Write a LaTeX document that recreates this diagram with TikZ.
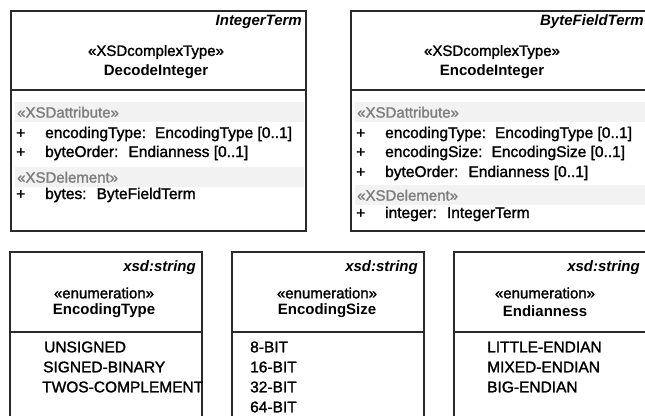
\documentclass[tikz,border=0pt]{standalone}
\usepackage{fontspec}
\setmainfont{Liberation Sans}
\newfontfamily\rowface{Liberation Sans}[FakeBold=1.5]
\usetikzlibrary{positioning}
\definecolor{framecolor}{HTML}{2A2A2A}
\definecolor{bandfill}{HTML}{F2F2F2}
\definecolor{stereotext}{HTML}{7E7E7E}
\newcommand{\umlfont}{\rowface\fontsize{15.5}{18}\selectfont}
\newcommand{\namefont}{\fontsize{15}{18}\selectfont\bfseries}
\newcommand{\attrrow}[1]{\makebox[29pt][l]{+}#1}

\begin{document}
\begin{tikzpicture}[x=1pt, y=1pt, every node/.style={font=\umlfont, inner sep=0pt}]

\tikzset{
  headbox/.style={rectangle, draw=framecolor, line width=1.6pt, outer sep=0pt,
    anchor=north west, minimum height=79pt},
  bodybox/.style={rectangle, draw=framecolor, line width=1.6pt, outer sep=0pt,
    minimum height=141pt},
  parentname/.style={anchor=east, font=\namefont\itshape},
  stereo/.style={anchor=center, font=\rowface\fontsize{15}{18}\selectfont},
  classname/.style={anchor=center, font=\namefont},
  band/.style={rectangle, fill=bandfill, anchor=north west, minimum height=20pt,
    text=stereotext, align=left, inner xsep=2pt, text depth=0pt,
    font=\rowface\fontsize{15}{18}\selectfont},
  rowtext/.style={anchor=west},
}

\useasboundingbox (0,0) rectangle (645,-415);
\clip (0,0) rectangle (645,-415);

% ---- top left: DecodeInteger ----
\node[headbox, minimum width=295pt] (decHead) at (11,-11) {};
\node[bodybox, minimum width=295pt, below=0pt of decHead] (decBody) {};
\node[parentname] (decParent) at (302,-22) {IntegerTerm};
\node[stereo] (decStereo) at (156,-52) {«XSDcomplexType»};
\node[classname] (decName) at (156,-72) {DecodeInteger};
\node[band, minimum width=289pt, text width=285pt] (decAttrBand) at (15,-102) {«XSDattribute»};
\node[rowtext] (decAttr1) at (16,-134) {\attrrow{encodingType:\hspace{9pt}EncodingType [0..1]}};
\node[rowtext] (decAttr2) at (16,-153) {\attrrow{byteOrder:~ Endianness [0..1]}};
\node[band, minimum width=289pt, text width=285pt] (decElemBand) at (15,-167) {«XSDelement»};
\node[rowtext] (decElem1) at (16,-195) {\attrrow{bytes:~ ByteFieldTerm}};

% ---- top right: EncodeInteger ----
\node[headbox, minimum width=310pt] (encHead) at (351,-11) {};
\node[bodybox, minimum width=310pt, below=0pt of encHead] (encBody) {};
\node[parentname] (encParent) at (644,-22) {ByteFieldTerm};
\node[stereo] (encStereo) at (492,-52) {«XSDcomplexType»};
\node[classname] (encName) at (492,-72) {EncodeInteger};
\node[band, minimum width=300pt, text width=296pt] (encAttrBand) at (355,-102) {«XSDattribute»};
\node[rowtext] (encAttr1) at (356,-134) {\attrrow{encodingType:\hspace{9pt}EncodingType [0..1]}};
\node[rowtext] (encAttr2) at (356,-153) {\attrrow{encodingSize:\hspace{9pt}EncodingSize [0..1]}};
\node[rowtext] (encAttr3) at (356,-173) {\attrrow{byteOrder:~ Endianness [0..1]}};
\node[band, minimum width=300pt, text width=296pt] (encElemBand) at (355,-185) {«XSDelement»};
\node[rowtext] (encElem1) at (356,-214) {\attrrow{integer:~ IntegerTerm}};

% ---- bottom row: enumerations ----
\node[headbox, minimum width=192pt, minimum height=80pt] (typeHead) at (10,-252) {};
\node[bodybox, minimum width=192pt, minimum height=100pt, below=0pt of typeHead] (typeBody) {};
\node[parentname] (typeParent) at (196,-268) {xsd:string};
\node[stereo] (typeStereo) at (104,-293) {«enumeration»};
\node[classname] (typeName) at (104,-311) {EncodingType};
\node[rowtext] (typeLit1) at (44,-347) {UNSIGNED};
\node[rowtext] (typeLit2) at (43,-367) {SIGNED-BINARY};
\node[rowtext] (typeLit3) at (42,-387) {TWOS-COMPLEMENT};

\node[headbox, minimum width=192pt, minimum height=80pt] (sizeHead) at (232,-252) {};
\node[bodybox, minimum width=192pt, minimum height=100pt, below=0pt of sizeHead] (sizeBody) {};
\node[parentname] (sizeParent) at (418,-268) {xsd:string};
\node[stereo] (sizeStereo) at (327,-293) {«enumeration»};
\node[classname] (sizeName) at (327,-311) {EncodingSize};
\node[rowtext] (sizeLit1) at (250,-347) {8-BIT};
\node[rowtext] (sizeLit2) at (250,-367) {16-BIT};
\node[rowtext] (sizeLit3) at (250,-387) {32-BIT};
\node[rowtext] (sizeLit4) at (250,-407) {64-BIT};

\node[headbox, minimum width=210pt, minimum height=80pt] (endHead) at (454,-252) {};
\node[bodybox, minimum width=210pt, minimum height=100pt, below=0pt of endHead] (endBody) {};
\node[parentname] (endParent) at (640,-268) {xsd:string};
\node[stereo] (endStereo) at (545,-293) {«enumeration»};
\node[classname] (endName) at (545,-311) {Endianness};
\node[rowtext] (endLit1) at (487,-347) {LITTLE-ENDIAN};
\node[rowtext] (endLit2) at (487,-367) {MIXED-ENDIAN};
\node[rowtext] (endLit3) at (487,-387) {BIG-ENDIAN};

\end{tikzpicture}
\end{document}
